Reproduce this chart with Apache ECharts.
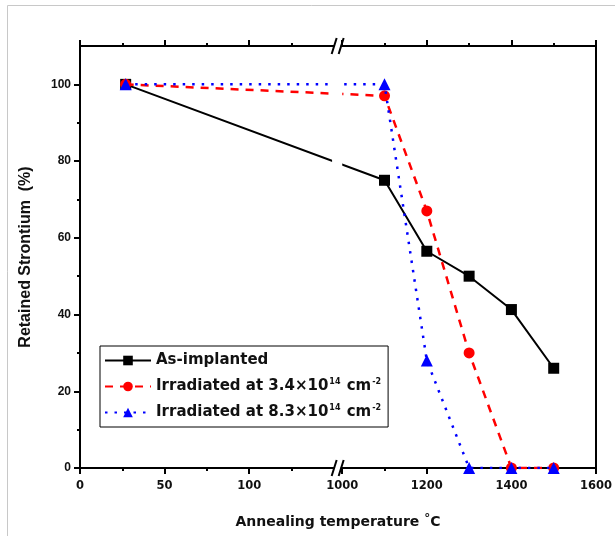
<!DOCTYPE html>
<html>
<head>
<meta charset="utf-8">
<script src="https://cdn.jsdelivr.net/npm/echarts@6/dist/echarts.min.js"></script>
<style>html,body{margin:0;padding:0;background:#fff;}#c{width:615px;height:536px;}</style>
</head>
<body>
<div id="c"></div>
<script>
// ---- data ----
var temperatures = [27, 1100, 1200, 1300, 1400, 1500];
var asImplanted = [100, 75, 56.5, 50, 41.3, 26];
var irradiated34 = [100, 97, 67, 30, 0, 0];
var irradiated83 = [100, 100, 28, 0, 0, 0];
var xMajorTicks = [0, 50, 100, 1000, 1200, 1400, 1600];
var xMinorTicks = [25, 75, 125, 1100, 1300, 1500];
var yMajorTicks = [0, 20, 40, 60, 80, 100];
var yMinorTicks = [10, 30, 50, 70, 90];
var seriesNames = ['As-implanted', 'Irradiated at 3.4×10{s|14} cm{s|-2}', 'Irradiated at 8.3×10{s|14} cm{s|-2}'];

// broken x axis: 0..150 and 1000..1600 mapped onto one continuous axis
var BREAK_LO = 150, BREAK_HI = 1000, GAP_START = 155;
function toAxis(x) { return x <= BREAK_LO ? x : GAP_START + (x - BREAK_HI) / 4; }
function fromAxis(d) { return d <= BREAK_LO ? d : Math.round(BREAK_HI + (d - GAP_START) * 4); }
var X_MAX = toAxis(1600);

function pairs(vals) { return temperatures.map(function (t, i) { return [toAxis(t), vals[i]]; }); }

var chart = echarts.init(document.getElementById('c'), null, {renderer: 'canvas'});
var lineCol = '#000';
function xAxisDef(pos, major, withLabel, withName) {
  return {
    type: 'value', position: pos, min: 0, max: X_MAX,
    axisLine: {show: true, onZero: false, lineStyle: {color: lineCol, width: 2}},
    axisTick: {show: true, inside: false, length: major ? 6 : 3, lineStyle: {color: lineCol, width: 2},
      customValues: (major ? xMajorTicks : xMinorTicks).map(toAxis)},
    axisLabel: withLabel ? {show: true, customValues: xMajorTicks.map(toAxis), margin: 12,
      formatter: function (v) { return String(fromAxis(v)); },
      fontFamily: 'DejaVu Sans', fontWeight: 'bold', fontSize: 11.5, color: '#111'} : {show: false},
    splitLine: {show: false},
    name: withName ? 'Annealing temperature {d|°}C' : '',
    nameLocation: 'middle', nameGap: 45,
    nameTextStyle: {fontFamily: 'DejaVu Sans', fontWeight: 'bold', fontSize: 14, color: '#111', lineHeight: 18,
      rich: {d: {fontSize: 12, verticalAlign: 'top', lineHeight: 12, fontFamily: 'DejaVu Sans', color: '#111'}}}
  };
}
function yAxisDef(pos, major, withLabel, withName) {
  return {
    type: 'value', position: pos, min: 0, max: 110,
    axisLine: {show: true, onZero: false, lineStyle: {color: lineCol, width: 2}},
    axisTick: {show: pos === 'left', inside: false, length: major ? 6 : 3, lineStyle: {color: lineCol, width: 2},
      customValues: major ? yMajorTicks : yMinorTicks},
    axisLabel: withLabel ? {show: true, customValues: yMajorTicks, margin: 9,
      fontFamily: 'Liberation Sans', fontWeight: 'bold', fontSize: 12, color: '#111'} : {show: false},
    splitLine: {show: false},
    name: withName ? 'Retained Strontium  (%)' : '',
    nameLocation: 'middle', nameGap: 46, nameRotate: 90,
    nameTextStyle: {fontFamily: 'Liberation Sans', fontWeight: 'bold', fontSize: 16, color: '#111'}
  };
}

var option = {
  animation: false,
  backgroundColor: '#fff',
  grid: {left: 80, right: 13, top: 46, bottom: 68},
  xAxis: [
    xAxisDef('bottom', true, true, true),
    xAxisDef('bottom', false, false, false),
    xAxisDef('top', true, false, false),
    xAxisDef('top', false, false, false)
  ],
  yAxis: [
    yAxisDef('left', true, true, true),
    yAxisDef('left', false, false, false),
    yAxisDef('right', true, false, false)
  ],
  legend: {
    left: 100, top: 346, orient: 'vertical', z: 40,
    backgroundColor: '#fff',
    padding: [6, 6, 6, 4], itemGap: 9, itemWidth: 46, itemHeight: 12,
    borderColor: '#000', borderWidth: 1,
    data: seriesNames,
    formatter: function (n) { return n; },
    textStyle: {fontFamily: 'DejaVu Sans', fontWeight: 'bold', fontSize: 15, color: '#111', lineHeight: 17,
      rich: {s: {fontSize: 8, lineHeight: 6, verticalAlign: 'top', padding: [0, 1, 0, 1], fontFamily: 'DejaVu Sans', color: '#111'}}}
  },
  series: [
    {name: seriesNames[0], type: 'line', data: pairs(asImplanted), symbol: 'rect', symbolSize: 11,
      color: '#000', lineStyle: {color: '#000', width: 2}, itemStyle: {color: '#000'}, z: 3},
    {name: seriesNames[1], type: 'line', data: pairs(irradiated34), symbol: 'circle', symbolSize: 11,
      color: '#ff0000', lineStyle: {color: '#ff0000', width: 2.5, type: [8, 7]}, itemStyle: {color: '#ff0000'}, z: 4},
    {name: seriesNames[2], type: 'line', data: pairs(irradiated83), symbol: 'triangle', symbolSize: 12,
      color: '#0000ff', lineStyle: {color: '#0000ff', width: 2.5, type: [2.5, 7]}, itemStyle: {color: '#0000ff'}, z: 5}
  ]
};
chart.setOption(option);

// axis break decorations positioned through the axis scale
var gx0 = chart.convertToPixel({xAxisIndex: 0}, 149);
var gx1 = chart.convertToPixel({xAxisIndex: 0}, GAP_START);
var bx = chart.convertToPixel({xAxisIndex: 0}, 152.3);
var yTop = chart.convertToPixel({yAxisIndex: 0}, 110);
var yBot = chart.convertToPixel({yAxisIndex: 0}, 0);
function slashes(y) {
  return [
    {type: 'rect', shape: {x: bx - 3, y: y - 2, width: 6, height: 4}, style: {fill: '#fff'}, z: 20},
    {type: 'line', shape: {x1: bx - 6, y1: y + 8, x2: bx - 1, y2: y - 8}, style: {stroke: '#000', lineWidth: 2}, z: 21},
    {type: 'line', shape: {x1: bx + 1, y1: y + 8, x2: bx + 6, y2: y - 8}, style: {stroke: '#000', lineWidth: 2}, z: 21}
  ];
}
chart.setOption({
  graphic: [
    {type: 'rect', shape: {x: 7.5, y: 5.5, width: 700, height: 700}, style: {fill: null, stroke: '#c8c8c8', lineWidth: 1}, z: 0, silent: true},
    {type: 'rect', shape: {x: gx0, y: yTop + 3, width: gx1 - gx0, height: yBot - yTop - 6}, style: {fill: '#fff'}, z: 15}
  ].concat(slashes(yTop)).concat(slashes(yBot))
});
</script>
</body>
</html>
